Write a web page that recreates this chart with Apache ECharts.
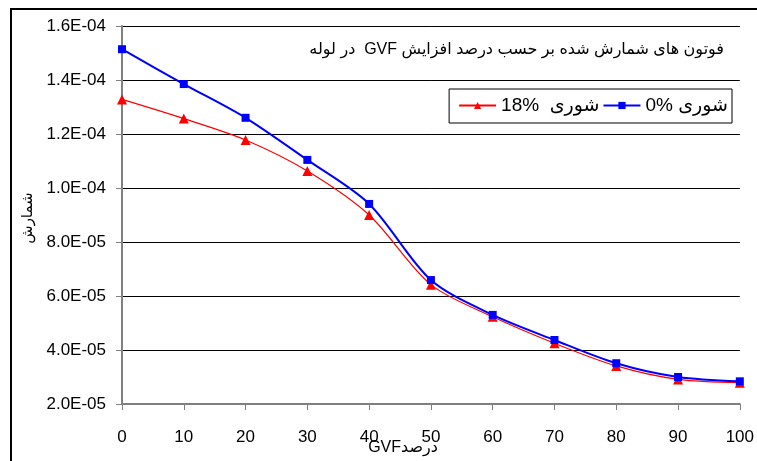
<!DOCTYPE html>
<html>
<head>
<meta charset="utf-8">
<script src="https://cdn.jsdelivr.net/npm/echarts@6/dist/echarts.min.js"></script>
<style>
html,body{margin:0;padding:0;background:#fff;}
#chart{width:757px;height:461px;}
</style>
</head>
<body>
<div id="chart"></div>
<script>
// ---- data ----
const gvfPercent = [0, 10, 20, 30, 40, 50, 60, 70, 80, 90, 100];
const salinity0 = [1.514e-4, 1.385e-4, 1.260e-4, 1.104e-4, 9.41e-5, 6.59e-5, 5.30e-5, 4.37e-5, 3.51e-5, 3.00e-5, 2.84e-5];
const salinity18 = [1.328e-4, 1.257e-4, 1.178e-4, 1.063e-4, 9.00e-5, 6.42e-5, 5.23e-5, 4.25e-5, 3.41e-5, 2.91e-5, 2.79e-5];
const yTicks = [2e-5, 4e-5, 6e-5, 8e-5, 1e-4, 1.2e-4, 1.4e-4, 1.6e-4];

const RLE = '\u202B', PDF = '\u202C';
const rtl = s => RLE + s + PDF;
const titleText = rtl('فوتون های شمارش شده بر حسب درصد افزایش GVF  در لوله');
const name0 = '0% شوری';
const name18 = '18%  شوری';
const xName = rtl('درصدGVF');
const yName = 'شمارش';

const FONT = '"Liberation Sans", Arial, "DejaVu Sans", sans-serif';

function fmtExp(v) {
  const s = Number(v).toExponential(1).toUpperCase(); // e.g. 1.6E-4
  const m = s.match(/^(-?[\d.]+)E([+-])(\d+)$/);
  if (!m) return s;
  const exp = m[3].length < 2 ? '0' + m[3] : m[3];
  return m[1] + 'E' + m[2] + exp;
}

const chart = echarts.init(document.getElementById('chart'), null, {renderer: 'canvas'});
chart.setOption({
  backgroundColor: '#ffffff',
  animation: false,
  textStyle: {fontFamily: FONT},
  title: {
    text: titleText,
    right: 28,
    top: 37,
    textStyle: {fontFamily: FONT, fontSize: 16, fontWeight: 'normal', color: '#000'}
  },
  legend: {
    data: [name18, name0],
    right: 25,
    top: 89,
    orient: 'horizontal',
    itemWidth: 37,
    itemHeight: 9,
    itemGap: 3,
    padding: [7, 4, 8, 9],
    borderColor: '#000',
    borderWidth: 1,
    backgroundColor: '#fff',
    borderRadius: 0,
    textStyle: {fontFamily: FONT, fontSize: 19, color: '#000'}
  },
  grid: {left: 122, right: 16, top: 26, bottom: 57, containLabel: false},
  xAxis: {
    type: 'value',
    min: 0, max: 100, interval: 10,
    axisLine: {show: true, lineStyle: {color: '#808080', width: 2}},
    axisTick: {show: true, length: 6, lineStyle: {color: '#808080', width: 1}},
    axisLabel: {margin: 25, fontSize: 17, color: '#000', fontFamily: FONT},
    splitLine: {show: false}
  },
  yAxis: {
    type: 'value',
    min: yTicks[0], max: yTicks[yTicks.length - 1], interval: yTicks[1] - yTicks[0],
    name: yName,
    nameLocation: 'middle',
    nameGap: 84,
    nameRotate: 90,
    nameTextStyle: {fontFamily: 'DejaVu Sans, sans-serif', fontSize: 15, color: '#000', padding: [0, 6, 0, 0]},
    axisLine: {show: true, lineStyle: {color: '#808080', width: 2}},
    axisTick: {show: true, length: 6, lineStyle: {color: '#808080', width: 1}},
    axisLabel: {margin: 16, fontSize: 17, color: '#000', fontFamily: FONT, formatter: fmtExp},
    splitLine: {show: true, lineStyle: {color: '#000', width: 1}}
  },
  graphic: [
    {
      type: 'rect', silent: true, z: 100,
      shape: {x: 11, y: 9, width: 800, height: 500},
      style: {fill: 'none', stroke: '#000', lineWidth: 2}
    },
    {
      type: 'text', silent: true, z: 100,
      x: 403, y: 448,
      style: {text: xName, fontFamily: FONT, fontSize: 16, fill: '#000', align: 'center', verticalAlign: 'middle'}
    }
  ],
  series: [
    {
      name: name18,
      type: 'line',
      data: gvfPercent.map((x, i) => [x, salinity18[i]]),
      smooth: 0.3,
      symbol: 'triangle',
      symbolSize: 10,
      itemStyle: {color: '#ff0000'},
      lineStyle: {color: '#ff0000', width: 1.2}
    },
    {
      name: name0,
      type: 'line',
      data: gvfPercent.map((x, i) => [x, salinity0[i]]),
      smooth: 0.3,
      symbol: 'rect',
      symbolSize: 8,
      itemStyle: {color: '#0000ff'},
      lineStyle: {color: '#0000ff', width: 2}
    }
  ]
});
</script>
</body>
</html>
